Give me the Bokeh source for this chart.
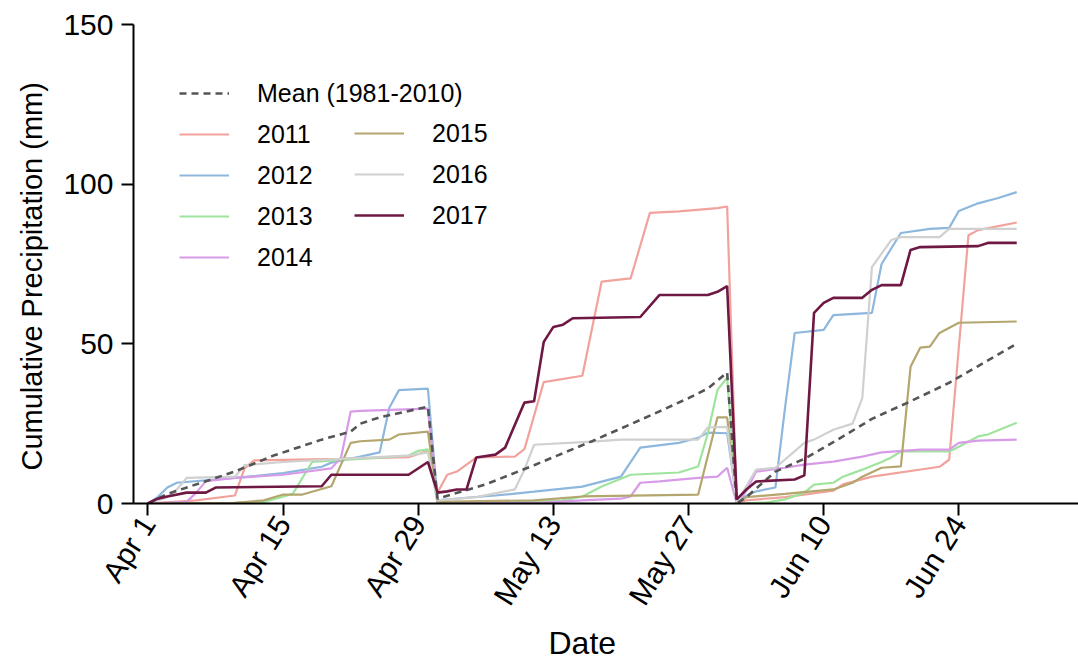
import math
from bokeh.plotting import figure
from bokeh.models import FixedTicker, Legend, LegendItem, Range1d, Title
from bokeh.embed import file_html
from bokeh.resources import INLINE

# Day index: 0 = Apr 1. Running totals restart on May 1 (day 30) and Jun 1 (day 61).
tick_days = [0, 14, 28, 42, 56, 70, 84]
tick_labels = ["Apr 1", "Apr 15", "Apr 29", "May 13", "May 27", "Jun 10", "Jun 24"]
y_ticks = [0, 50, 100, 150]

# (day, cumulative mm) vertices of each daily series
mean_1981_2010 = [(0, 0), (2, 3), (6, 7), (9, 10), (13, 15), (18, 20), (21, 22.5), (22, 25), (24, 27), (29, 30.3),
                  (30, 1.5), (35, 6), (40, 12), (46, 19.5), (52, 27.5), (56, 33), (58, 36), (60, 41),
                  (61, 0), (62, 2), (65, 10), (68, 14), (72, 21), (75, 26.5), (79, 32), (83, 37.8), (86, 43), (90, 50)]

y2011 = [(0, 0), (5, 1), (9, 2.5), (10, 11), (11, 13.5), (20, 14), (27, 14.5), (29, 16.5),
         (30, 3.4), (31, 9), (32, 10), (34, 14.4), (38, 14.7), (39, 17), (41, 38), (45, 40), (47, 69.5),
         (50, 70.5), (52, 91), (55, 91.5), (59, 92.5), (60, 93),
         (61, 0), (62, 1), (66, 2), (71, 4), (72, 6), (75, 8.4), (82, 11.5), (83, 13.7), (85, 84), (86, 85.6), (90, 88)]

y2012 = [(0, 0), (1, 2), (2, 5), (3, 6.5), (9, 8), (14, 9.5), (18, 11.5), (19, 12.8), (22, 14.7), (24, 16), (25, 30),
         (26, 35.5), (29, 36),
         (30, 1), (33, 1.8), (36, 2.5), (40, 3.7), (45, 5.3), (49, 8.4), (51, 17.5), (55, 19), (57, 20.6), (58, 22.2), (60, 22),
         (61, 1), (63, 3.8), (65, 5), (66, 30), (67, 53.4), (70, 54.4), (71, 59), (75, 59.7), (76, 75), (78, 84.7),
         (81, 86), (83, 86.3), (84, 91.6), (86, 94), (88, 95.6), (90, 97.5)]

y2013 = [(0, 0), (7, 0), (12, 0.5), (15, 3), (17, 13), (22, 14), (27, 15), (28, 16.5), (29, 17),
         (30, 0), (38, 0.5), (43, 1), (45, 2.2), (47, 5.3), (50, 9), (55, 9.7), (57, 11.6), (58, 22), (59, 35.6), (60, 39.4),
         (61, 0), (64, 0.3), (66, 1.3), (68, 3.4), (69, 5.9), (71, 6.5), (72, 8.4), (74, 10.6), (76, 13), (77, 14.4),
         (78, 16.3), (83, 16.3), (84, 17.8), (86, 21), (87, 21.6), (90, 25.3)]

y2014 = [(0, 0), (4, 0.5), (5, 3.4), (6, 7), (9, 8), (14, 9), (19, 11), (20, 14.4), (21, 28.8), (22, 29), (29, 29.7),
         (30, 0), (41, 0.3), (45, 1), (49, 1.5), (50, 2.2), (51, 6.5), (53, 6.9), (57, 8), (59, 8.4), (60, 11.2),
         (61, 0), (62, 4), (63, 10), (66, 11.2), (68, 12.2), (71, 13.1), (74, 14.7), (76, 16), (80, 16.9), (83, 16.9),
         (84, 19), (86, 19.7), (90, 20)]

y2015 = [(0, 0), (9, 0.2), (12, 1), (14, 2.8), (16, 2.8), (19, 5.4), (21, 19), (22, 19.5), (25, 20), (26, 21.6), (29, 22.5),
         (30, 0.5), (40, 1), (45, 2.2), (57, 2.8), (59, 27), (60, 27),
         (61, 0), (62, 2), (66, 3), (71, 4.4), (73, 6.5), (74, 8.4), (76, 11.2), (78, 11.6), (79, 42.8), (80, 48.8),
         (81, 49.1), (82, 53.4), (84, 56.6), (90, 57)]

y2016 = [(0, 0), (2, 2), (3, 4.4), (4, 8), (9, 8.4), (10, 12), (14, 13), (20, 14), (27, 15), (29, 16),
         (30, 1), (34, 2), (38, 4.4), (39, 10.6), (40, 18.4), (46, 19.4), (49, 20), (57, 20), (58, 23.8), (60, 24),
         (61, 0), (62, 5.5), (63, 10.6), (65, 11.2), (68, 19), (69, 20), (71, 23.1), (73, 25), (74, 33), (75, 74),
         (77, 82.5), (78, 83.4), (82, 83.4), (83, 86), (90, 86)]

y2017 = [(0, 0), (1, 1.5), (2, 2.2), (4, 3.4), (6, 3.4), (7, 5), (18, 5.4), (19, 9), (27, 9), (29, 13),
         (30, 3.4), (31, 3.8), (32, 4.4), (33, 4.4), (34, 14.4), (36, 15.3), (37, 17.5), (39, 31.6), (40, 32),
         (41, 50.6), (42, 55.3), (43, 56), (44, 58), (51, 58.4), (53, 65.3), (58, 65.3), (59, 66.3), (60, 68.1),
         (61, 1.3), (62, 4.4), (63, 6.9), (67, 7.5), (68, 8.8), (69, 59.7), (70, 62.8), (71, 64.4), (74, 64.4),
         (75, 66.9), (76, 68.4), (78, 68.4), (79, 79.4), (80, 80.3), (86, 80.6), (87, 81.6), (90, 81.6)]

years = ["2011", "2012", "2013", "2014", "2015", "2016", "2017"]
year_series = [y2011, y2012, y2013, y2014, y2015, y2016, y2017]
year_colors = ["#f2a29c", "#8db7dd", "#9fe49d", "#d79be8", "#b4a66f", "#d0d0d0", "#6f1843"]
year_widths = [2.2, 2.2, 2.2, 2.2, 2.2, 2.2, 2.6]

FONT = "Liberation Sans"

p = figure(width=1078, height=661, output_backend="svg", toolbar_location=None,
           x_range=Range1d(-1.5, 96.4), y_range=Range1d(0, 150),
           min_border_left=132, min_border_right=0, min_border_top=24, min_border_bottom=158)
p.background_fill_color = "white"
p.border_fill_color = "white"
p.outline_line_color = None
p.xgrid.visible = False
p.ygrid.visible = False


def unzip(pairs):
    return [d for d, _ in pairs], [v for _, v in pairs]


renderers = {}
for name, series, color, width in zip(years, year_series, year_colors, year_widths):
    if name == "2017":
        continue
    xs, ys = unzip(series)
    renderers[name] = p.line(xs, ys, line_color=color, line_width=width)

mx, my = unzip(mean_1981_2010)
r_mean = p.line(mx, my, line_color="#555555", line_width=2.6, line_dash="7 5")

xs, ys = unzip(y2017)
renderers["2017"] = p.line(xs, ys, line_color=year_colors[-1], line_width=year_widths[-1])

# Axes
for ax in (p.xaxis[0], p.yaxis[0]):
    ax.axis_line_width = 2
    ax.axis_line_color = "black"
    ax.major_tick_line_width = 2
    ax.major_tick_line_color = "black"
    ax.major_tick_out = 12
    ax.major_tick_in = 0
    ax.minor_tick_line_color = None
    ax.major_label_text_font = FONT
    ax.major_label_text_color = "black"

p.xaxis.ticker = FixedTicker(ticks=tick_days)
p.xaxis.major_label_overrides = {d: lab for d, lab in zip(tick_days, tick_labels)}
p.xaxis.major_label_orientation = 1.01
p.xaxis.major_label_text_font_size = "30px"
p.xaxis.major_label_standoff = 3

p.yaxis.ticker = FixedTicker(ticks=y_ticks)
p.yaxis.major_label_text_font_size = "30px"
p.yaxis.major_label_standoff = 8

# Axis titles as side titles so they can be offset along the axis
p.add_layout(Title(text="Cumulative Precipitation (mm)", align="left", offset=33,
                   text_font=FONT, text_font_size="29px", text_font_style="normal",
                   text_color="black", standoff=26), "left")
p.add_layout(Title(text="Date", align="left", offset=415,
                   text_font=FONT, text_font_size="32px", text_font_style="normal",
                   text_color="black", standoff=0), "below")


def styled_legend(items, loc):
    return Legend(items=items, location=loc, orientation="vertical",
                  label_text_font=FONT, label_text_font_size="25px", label_text_color="black",
                  glyph_width=50, glyph_height=30, label_height=30, label_standoff=28,
                  spacing=11, padding=0, margin=0,
                  border_line_color=None, background_fill_alpha=0)


items_left = [LegendItem(label="Mean (1981-2010)", renderers=[r_mean])] + \
             [LegendItem(label=y, renderers=[renderers[y]]) for y in years[:4]]
items_right = [LegendItem(label=y, renderers=[renderers[y]]) for y in years[4:]]

p.add_layout(styled_legend(items_left, (46, 231)))
p.add_layout(styled_legend(items_right, (221, 273)))

open("out.html", "w").write(file_html(p, INLINE))
